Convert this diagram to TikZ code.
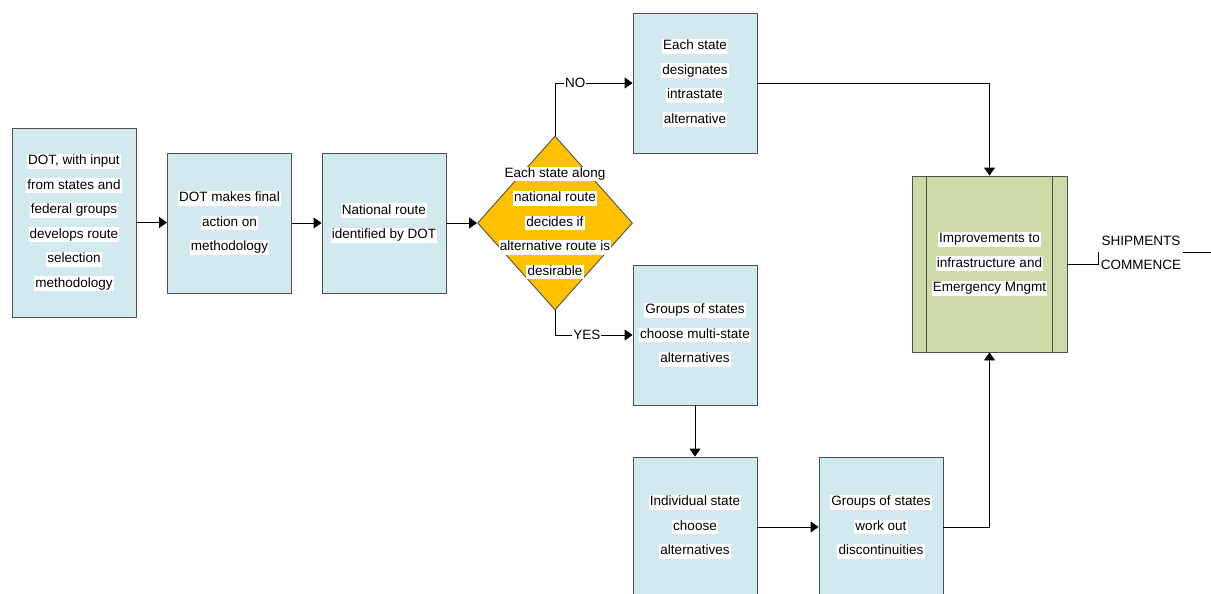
\documentclass[tikz,border=0pt]{standalone}
\usepackage{fontspec}
\setmainfont{Liberation Sans}
\usetikzlibrary{shapes.geometric,arrows.meta}
\definecolor{boxblue}{RGB}{210,233,239}
\definecolor{boxgreen}{RGB}{204,219,168}
\definecolor{dorange}{RGB}{255,192,0}
\definecolor{edgegray}{RGB}{80,80,80}
\newcommand{\hl}[1]{{\setlength{\fboxsep}{1.2pt}\colorbox{white}{\vphantom{Ag}#1}}}
\begin{document}
\begin{tikzpicture}[x=1pt,y=-1pt,
  txtfont/.style={font=\fontsize{13.5}{24.5}\selectfont},
  box/.style={draw=edgegray, line width=0.9pt, fill=boxblue, minimum width=124, minimum height=140, inner sep=0, align=center, txtfont},
  dia/.style={diamond, draw=edgegray, line width=0.9pt, fill=dorange, minimum width=155, minimum height=174, inner sep=0},
  txt/.style={align=center, inner sep=0, txtfont},
  proc/.style={draw=edgegray, line width=0.9pt, fill=boxgreen, minimum width=155, minimum height=176, inner sep=0, align=center, txtfont},
  arr/.style={-{Triangle[length=8pt,width=11pt]}, line width=0.9pt},
  lbl/.style={fill=white, inner sep=1pt, txtfont}]
\useasboundingbox (0,0) rectangle (1211,594);
\clip (0,0) rectangle (1211,594);
\fill[white] (0,0) rectangle (1211,594);

\node[box, minimum height=189] (A) at (74,222.5) {\hl{DOT, with input}\\\hl{from states and}\\\hl{federal groups}\\\hl{develops route}\\\hl{selection}\\\hl{methodology}};
\node[box] (B) at (229.5,223) {\hl{DOT makes final}\\\hl{action on}\\\hl{methodology}};
\node[box] (C) at (384,223) {\hl{National route}\\\hl{identified by DOT}};
\node[dia] (Q) at (555,223) {};
\node[txt] (Qt) at (Q.center) {\hl{Each state along}\\\hl{national route}\\\hl{decides if}\\\hl{alternative route is}\\\hl{desirable}};
\node[box] (D) at (695,83) {\hl{Each state}\\\hl{designates}\\\hl{intrastate}\\\hl{alternative}};
\node[box] (E) at (695,335) {\hl{Groups of states}\\\hl{choose multi-state}\\\hl{alternatives}};
\node[box] (F) at (695,527) {\hl{Individual state}\\\hl{choose}\\\hl{alternatives}};
\node[box] (G) at (881,527) {\hl{Groups of states}\\\hl{work out}\\\hl{discontinuities}};
\node[proc] (H) at (989.5,264) {\hl{Improvements to}\\\hl{infrastructure and}\\\hl{Emergency Mngmt}};
\draw[edgegray, line width=0.9pt] ([xshift=15pt]H.north west) -- ([xshift=15pt]H.south west);
\draw[edgegray, line width=0.9pt] ([xshift=-15pt]H.north east) -- ([xshift=-15pt]H.south east);

\draw[arr] (A.east) -- (A.east -| B.west);
\draw[arr] (B.east) -- (C.west);
\draw[arr] (C.east) -- (Q.west);
\draw[arr] (Q.north) |- node[lbl, pos=0.63] {NO} (D.west);
\draw[arr] (Q.south) |- node[lbl, pos=0.705] {YES} (E.west);
\draw[arr] (E.south) -- (F.north);
\draw[arr] (F.east) -- (G.west);
\draw[arr] (G.east) -| (H.south);
\draw[arr] (D.east) -| (H.north);

\coordinate (out) at (1212,252);
\draw[line width=0.9pt] (H.east) -- ++(31,0) |- (out);
\node[fill=white, inner sep=1.5pt, align=center, txtfont] (S) at (1141,253) {SHIPMENTS\\COMMENCE};
\end{tikzpicture}
\end{document}
